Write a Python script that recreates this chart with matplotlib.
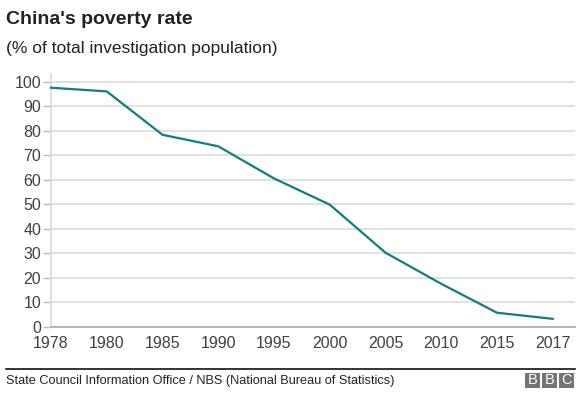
import matplotlib
matplotlib.use("Agg")
import matplotlib.pyplot as plt
from matplotlib.patches import Rectangle
from matplotlib.lines import Line2D

# ── Data ──────────────────────────────────────────────────────────────────────
years = ["1978", "1980", "1985", "1990", "1995", "2000", "2005", "2010", "2015", "2017"]
poverty_rate = [97.5, 96.0, 78.3, 73.6, 60.5, 49.8, 30.2, 17.5, 5.7, 3.2]
y_ticks = [0, 10, 20, 30, 40, 50, 60, 70, 80, 90, 100]

# ── Theme ─────────────────────────────────────────────────────────────────────
TEAL = "#0f7f7b"
GRID = "#dcdcdc"
TEXT = "#222222"
TICK = "#404040"

plt.rcParams["font.family"] = ["Liberation Sans", "DejaVu Sans"]

W, H = 585, 397
fig = plt.figure(figsize=(W / 100, H / 100), dpi=100)
fig.patch.set_facecolor("white")

# axes placed in pixel coordinates
left, right, top, bottom = 51, 575, 74, 326.7
ax = fig.add_axes([left / W, 1 - bottom / H, (right - left) / W, (bottom - top) / H])

x = list(range(len(years)))
ax.plot(x, poverty_rate, color=TEAL, linewidth=1.6, zorder=3, clip_on=False)

ax.set_xlim(0, 9.4)
ax.set_ylim(0, 103.1)
ax.set_yticks(y_ticks)
ax.set_yticklabels([str(t) for t in y_ticks])
ax.set_xticks(x)
ax.set_xticklabels(years)

ax.yaxis.grid(True, color=GRID, linewidth=1.2, zorder=0)
ax.xaxis.grid(False)
ax.set_axisbelow(True)

for s in ["top", "right"]:
    ax.spines[s].set_visible(False)
ax.spines["left"].set_color(GRID)
ax.spines["left"].set_linewidth(1.2)
ax.spines["bottom"].set_color("#aaaaaa")
ax.spines["bottom"].set_linewidth(1.2)

ax.tick_params(axis="y", length=6, width=1, color="#bbbbbb", pad=1,
               labelsize=11.5, labelcolor=TICK)
ax.tick_params(axis="x", length=0, pad=7, labelsize=11.5, labelcolor=TICK)

# ── Titles ────────────────────────────────────────────────────────────────────
fig.text(6 / W, 1 - 20 / H, "China's poverty rate", fontsize=14, fontweight="bold",
         color=TEXT, ha="left", va="center")
fig.text(6 / W, 1 - 48 / H, "(% of total investigation population)", fontsize=12.5,
         color=TEXT, ha="left", va="center")

# ── Footer ────────────────────────────────────────────────────────────────────
fig.add_artist(Line2D([6 / W, 575 / W], [1 - 369 / H, 1 - 369 / H],
                      color="#111111", linewidth=1.2, transform=fig.transFigure))
fig.text(6 / W, 1 - 381 / H, "State Council Information Office / NBS (National Bureau of Statistics)",
         fontsize=9.2, color=TEXT, ha="left", va="center")

for i, letter in enumerate("BBC"):
    x0 = 525 + i * 17
    fig.add_artist(Rectangle((x0 / W, 1 - 388 / H), 15 / W, 15 / H,
                             facecolor="#747474", edgecolor="none",
                             transform=fig.transFigure))
    fig.text((x0 + 7.5) / W, 1 - 380.5 / H, letter, fontsize=10.5,
             color="white", ha="center", va="center")

fig.savefig("out.png", dpi=100, facecolor="white")
